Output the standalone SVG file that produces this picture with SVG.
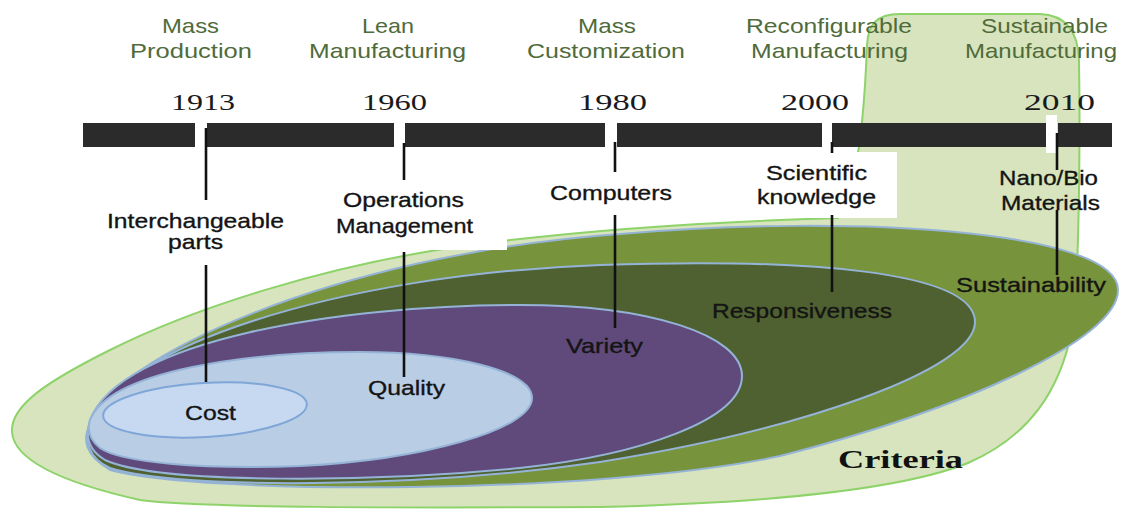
<svg xmlns="http://www.w3.org/2000/svg" width="1127" height="509" viewBox="0 0 1127 509">
<style>
.era{font-family:"Liberation Sans",Arial,sans-serif;font-size:21px;fill:#4f6b3a}
.yr{font-family:"Liberation Serif","Times New Roman",serif;font-size:23px;fill:#1a1a1a}
.lbl{font-family:"Liberation Sans",Arial,sans-serif;font-size:21px;fill:#141414;stroke:#141414;stroke-width:0.35}
.crit{font-family:"Liberation Serif","Times New Roman",serif;font-size:25px;font-weight:bold;fill:#111}
.bar{fill:#2b2b2b}
.conn line{stroke:#111;stroke-width:2.6}
.ell{stroke:#95b3d7;stroke-width:2}
</style>
<rect width="1127" height="509" fill="#ffffff"/>
<g id="criteria-area">
<path d="M 838 218 C 700 222, 560 232, 450 248 C 330 266, 200 305, 110 350 C 50 380, 10 405, 12 432 C 14 460, 60 482, 140 500 C 200 508, 400 508, 600 507 C 760 503, 900 490, 968 463 C 1030 436, 1060 390, 1072 330 C 1080 280, 1080 120, 1079 60 C 1078 30, 1065 15, 1040 14 L 900 14 C 876 14, 868 25, 867 45 C 865 100, 860 150, 856 160 C 850 190, 842 210, 838 218 Z" fill="#d7e4bd" stroke="#8ed36a" stroke-width="2"/>
</g>
<g id="sustainability">
<path class="ell" fill="#77933c" d="M 90 424 C 110 360, 330 255, 620 234 C 850 214, 1118 230, 1118 290 C 1118 340, 960 410, 780 456 C 600 495, 200 495, 110 470 C 85 455, 82 440, 90 424 Z"/>
</g>
<g id="responsiveness">
<path class="ell" fill="#4f6130" d="M 90 422 C 120 350, 330 275, 600 265 C 800 258, 975 270, 975 322 C 975 370, 800 430, 600 462 C 420 488, 180 490, 110 468 C 88 458, 84 440, 90 422 Z"/>
</g>
<g id="variety">
<path class="ell" fill="#604a7b" d="M 90 420 C 120 340, 340 305, 520 305 C 650 305, 742 335, 742 376 C 742 420, 640 455, 520 468 C 380 482, 160 485, 105 460 C 88 450, 85 436, 90 420 Z"/>
</g>
<g id="quality">
<path class="ell" fill="#b9cde5" d="M 90 420 C 110 370, 250 352, 360 352 C 450 352, 532 370, 532 398 C 532 430, 420 460, 300 466 C 200 470, 120 462, 100 448 C 90 440, 87 430, 90 420 Z"/>
</g>
<g id="cost">
<ellipse cx="205" cy="410" rx="102" ry="27" fill="#c6d9f1" stroke="#7fa6d6" stroke-width="2" transform="rotate(-3.4 205 410)"/>
</g>
<g id="label-boxes">
<rect x="325" y="183" width="182" height="67" fill="#ffffff"/>
<rect x="745" y="152" width="152" height="66" fill="#ffffff"/>
</g>
<g id="timeline">
<rect class="bar" x="83" y="123" width="112" height="24"/>
<rect class="bar" x="207" y="123" width="187" height="24"/>
<rect class="bar" x="405" y="123" width="200" height="24"/>
<rect class="bar" x="617" y="123" width="205" height="24"/>
<rect class="bar" x="832" y="123" width="214" height="24"/>
<rect x="1046" y="115" width="11" height="38" fill="#ffffff"/>
<rect class="bar" x="1058" y="123" width="54" height="24"/>
</g>
<g id="connectors" class="conn">
<line x1="206" y1="128" x2="206" y2="200"/>
<line x1="206" y1="265" x2="206" y2="382"/>
<line x1="404" y1="143" x2="404" y2="180"/>
<line x1="404" y1="252" x2="404" y2="377"/>
<line x1="615" y1="142" x2="615" y2="172"/>
<line x1="615" y1="215" x2="615" y2="328"/>
<line x1="832" y1="142" x2="832" y2="153"/>
<line x1="832" y1="215" x2="832" y2="292"/>
<line x1="1057" y1="133" x2="1057" y2="170"/>
<line x1="1057" y1="210" x2="1057" y2="275"/>
</g>
<g id="era-mass-production">
<text class="era" x="162" y="33" textLength="57" lengthAdjust="spacingAndGlyphs">Mass</text>
<text class="era" x="130" y="58" textLength="122" lengthAdjust="spacingAndGlyphs">Production</text>
</g>
<g id="era-lean">
<text class="era" x="362" y="33" textLength="52" lengthAdjust="spacingAndGlyphs">Lean</text>
<text class="era" x="309" y="58" textLength="157" lengthAdjust="spacingAndGlyphs">Manufacturing</text>
</g>
<g id="era-mass-customization">
<text class="era" x="578" y="33" textLength="58" lengthAdjust="spacingAndGlyphs">Mass</text>
<text class="era" x="527" y="58" textLength="158" lengthAdjust="spacingAndGlyphs">Customization</text>
</g>
<g id="era-reconfigurable">
<text class="era" x="746" y="33" textLength="166" lengthAdjust="spacingAndGlyphs">Reconfigurable</text>
<text class="era" x="751" y="58" textLength="157" lengthAdjust="spacingAndGlyphs">Manufacturing</text>
</g>
<g id="era-sustainable">
<text class="era" x="981" y="33" textLength="127" lengthAdjust="spacingAndGlyphs">Sustainable</text>
<text class="era" x="965" y="58" textLength="152" lengthAdjust="spacingAndGlyphs">Manufacturing</text>
</g>
<g id="years">
<text class="yr" x="171" y="110" textLength="64" lengthAdjust="spacingAndGlyphs">1913</text>
<text class="yr" x="362" y="110" textLength="65" lengthAdjust="spacingAndGlyphs">1960</text>
<text class="yr" x="578" y="110" textLength="69" lengthAdjust="spacingAndGlyphs">1980</text>
<text class="yr" x="781" y="110" textLength="68" lengthAdjust="spacingAndGlyphs">2000</text>
<text class="yr" x="1024" y="110" textLength="71" lengthAdjust="spacingAndGlyphs">2010</text>
</g>
<g id="driver-interchangeable">
<text class="lbl" x="107" y="228" textLength="177" lengthAdjust="spacingAndGlyphs">Interchangeable</text>
<text class="lbl" x="168" y="249" textLength="55" lengthAdjust="spacingAndGlyphs">parts</text>
</g>
<g id="driver-operations">
<text class="lbl" x="343" y="207" textLength="121" lengthAdjust="spacingAndGlyphs">Operations</text>
<text class="lbl" x="336" y="233" textLength="137" lengthAdjust="spacingAndGlyphs">Management</text>
</g>
<g id="driver-computers">
<text class="lbl" x="550" y="200" textLength="122" lengthAdjust="spacingAndGlyphs">Computers</text>
</g>
<g id="driver-scientific">
<text class="lbl" x="766" y="180" textLength="101" lengthAdjust="spacingAndGlyphs">Scientific</text>
<text class="lbl" x="757" y="204" textLength="119" lengthAdjust="spacingAndGlyphs">knowledge</text>
</g>
<g id="driver-nanobio">
<text class="lbl" x="999" y="185" textLength="99" lengthAdjust="spacingAndGlyphs">Nano/Bio</text>
<text class="lbl" x="1001" y="210" textLength="99" lengthAdjust="spacingAndGlyphs">Materials</text>
</g>
<g id="criteria-labels">
<text class="lbl" x="185" y="420" textLength="51" lengthAdjust="spacingAndGlyphs">Cost</text>
<text class="lbl" x="368" y="395" textLength="77" lengthAdjust="spacingAndGlyphs">Quality</text>
<text class="lbl" x="566" y="353" textLength="77" lengthAdjust="spacingAndGlyphs">Variety</text>
<text class="lbl" x="712" y="318" textLength="180" lengthAdjust="spacingAndGlyphs">Responsiveness</text>
<text class="lbl" x="956" y="292" textLength="150" lengthAdjust="spacingAndGlyphs">Sustainability</text>
<text class="crit" x="838" y="468" textLength="125" lengthAdjust="spacingAndGlyphs">Criteria</text>
</g>
</svg>
